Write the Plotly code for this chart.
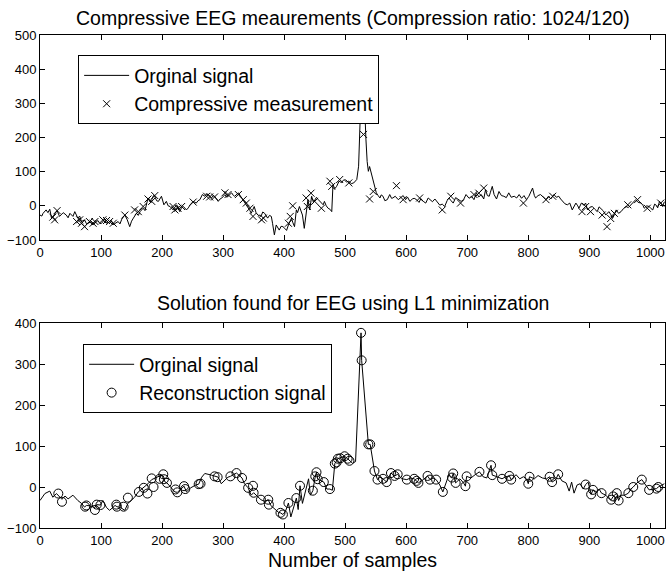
import plotly.graph_objects as go

# ---------------- data ----------------
# Top panel: original EEG signal (sample index, amplitude)
orig_x = [0, 3, 5, 10, 13, 16, 19, 24, 28, 32, 35, 38, 43, 46, 49, 54, 57, 62, 65, 68, 73, 76, 79, 84, 87,
          90, 95, 98, 101, 106, 109, 112, 117, 120, 123, 128, 131, 134, 139, 143, 147, 150, 153, 158, 161, 164,
          169, 172, 175, 177, 180, 183, 186, 188, 191, 194, 199, 203, 207, 210, 213, 218, 221, 224, 229, 232,
          235, 240, 243, 246, 251, 256, 259, 262, 266, 270, 273, 276, 281, 284, 286, 292, 295, 298, 303, 306,
          308, 314, 317, 319, 325, 328, 330, 336, 341, 344, 346, 351, 354, 357, 362, 365, 368, 373, 376, 379,
          381, 384, 387, 389, 392, 395, 398, 401, 404, 407, 410, 412, 414, 417, 420, 422, 425, 430, 433, 435,
          439, 442, 445, 448, 450, 453, 456, 461, 464, 466, 469, 472, 475, 478, 480, 483, 486, 490, 494, 498,
          502, 506, 510, 514, 517, 519, 522, 525, 527, 530, 532, 534, 536, 538, 540, 543, 546, 548, 551, 554,
          557, 559, 562, 565, 569, 573, 576, 578, 582, 587, 591, 595, 599, 602, 606, 610, 613, 617, 621, 624,
          628, 632, 636, 639, 643, 647, 650, 655, 659, 663, 667, 670, 673, 677, 681, 686, 690, 694, 698, 703,
          707, 711, 715, 719, 723, 727, 730, 733, 736, 738, 741, 744, 748, 752, 756, 760, 764, 768, 772, 777,
          781, 785, 789, 793, 797, 801, 804, 807, 810, 812, 816, 820, 825, 829, 833, 837, 840, 842, 846, 850,
          853, 856, 860, 864, 868, 872, 875, 878, 881, 883, 887, 891, 894, 897, 901, 905, 909, 913, 916, 919,
          923, 927, 930, 932, 935, 938, 941, 944, 948, 952, 956, 960, 964, 968, 972, 976, 980, 985, 988, 990,
          994, 998, 1001, 1004, 1007, 1009, 1012, 1015, 1018, 1020, 1023]
orig_y = [-27, -30, -22, -12, -20, -10, -37, -22, -14, -31, -24, -20, -27, -35, -22, -31, -17, -36, -30, -46,
          -41, -52, -51, -46, -55, -51, -43, -52, -51, -39, -50, -49, -43, -55, -51, -46, -53, -39, -27, -41,
          -61, -45, -36, -22, -28, -17, -7, -14, 8, 23, 12, 18, 30, 28, 15, 13, 28, 3, 13, 0, -2, -12, -4, 3,
          -17, -5, -2, -12, -6, 3, 13, 8, 15, 18, 33, 28, 35, 33, 23, 30, 28, 13, 20, 23, 33, 25, 28, 38, 30,
          28, 38, 30, 23, 8, -7, -14, -22, -2, -20, -27, -31, -18, -22, -36, -28, -31, -51, -85, -56, -62,
          -71, -60, -61, -66, -72, -56, -44, -36, -48, -61, -12, -20, -2, -27, -66, -31, 18, -12, 28, 10, 18,
          25, 18, 8, 3, 13, 0, -7, -10, -17, 62, 50, 57, 72, 68, 77, 70, 72, 65, 67, 73, 77, 116, 250, 385,
          380, 262, 195, 130, 101, 115, 92, 77, 60, 38, 30, 23, 32, 28, 15, 18, 33, 22, 23, 28, 18, 23, 30,
          18, 26, 13, 20, 22, 18, 10, 21, 13, 8, 23, 18, 12, 20, 13, 2, 5, -2, 15, 23, 16, 8, 24, 18, 13, 18,
          33, 22, 28, 18, 38, 26, 33, 20, 47, 30, 28, 40, 57, 33, 20, 42, 30, 28, 24, 38, 25, 28, 23, 33, 22,
          30, 18, 28, 38, 52, 30, 23, 30, 33, 25, 18, 28, 20, 28, 33, 25, 28, 20, 13, 6, 3, 8, -12, 0, 8, 0,
          -7, 8, 2, 8, -12, -4, -2, -10, -17, -3, -7, -15, -27, -20, -17, -25, -37, -26, -12, -22, -17, -8,
          -2, -5, 3, 12, 18, 10, 8, 1, -7, 0, -2, -8, -12, 5, 3, -6, 13, 6, -2, 12]

# Top panel: compressive measurements
meas_x = [21, 24, 28, 60, 65, 68, 73, 81, 87, 90, 103, 109, 114, 120, 139, 155, 161, 169, 177, 183, 188,
          218, 221, 226, 232, 251, 273, 278, 286, 303, 308, 325, 333, 338, 344, 349, 363, 366, 407, 410,
          414, 436, 438, 444, 450, 461, 475, 478, 491, 506, 530, 540, 546, 584, 595, 622, 659, 673, 689,
          711, 719, 727, 792, 829, 840, 888, 894, 902, 921, 929, 935, 941, 963, 979, 995, 1017]
meas_y = [-33, -41, -14, -46, -41, -51, -61, -46, -51, -46, -41, -43, -46, -51, -27, -12, -17, -2, 20, 13,
          30, -2, -12, -7, -2, 11, 28, 26, 26, 38, 33, 33, 18, 8, -7, -31, -41, -36, -51, -31, 0, 23, -2,
          37, 13, -7, 72, 57, 77, 67, 209, 20, 42, 59, 18, 23, -12, 28, 8, 33, 37, 52, 8, 18, 28, -17, -2,
          -17, -27, -61, -37, -22, 3, 18, -7, 8]

# Bottom panel: signal line
line_x = [0, 8, 16, 21, 27, 30, 36, 41, 46, 54, 62, 68, 73, 76, 82, 90, 93, 99, 103, 109, 114, 123, 126,
          132, 139, 144, 150, 155, 161, 170, 177, 183, 191, 199, 203, 205, 208, 215, 221, 225, 232, 236, 240,
          247, 254, 260, 265, 270, 281, 286, 292, 297, 303, 308, 312, 319, 322, 331, 335, 341, 346, 350, 356,
          362, 368, 374, 378, 385, 391, 394, 398, 402, 407, 411, 416, 420, 423, 426, 430, 435, 440, 443, 447,
          451, 453, 455, 460, 465, 470, 475, 479, 483, 488, 494, 499, 504, 507, 512, 517, 526, 527, 538, 541,
          548, 553, 557, 562, 568, 575, 581, 586, 593, 601, 607, 613, 617, 620, 628, 635, 639, 644, 649, 655,
          660, 666, 670, 675, 677, 681, 688, 694, 697, 699, 706, 713, 720, 726, 732, 739, 741, 747, 752, 757,
          763, 769, 772, 780, 786, 792, 797, 800, 802, 810, 816, 823, 830, 835, 839, 845, 849, 855, 862, 867,
          871, 875, 880, 885, 890, 894, 898, 903, 906, 912, 916, 920, 927, 932, 936, 939, 945, 948, 952, 958,
          964, 968, 972, 978, 986, 992, 998, 1005, 1010, 1013, 1020, 1023]
line_y = [-33, -16, -10, -25, -16, -20, -30, -22, -29, -20, -33, -40, -49, -45, -46, -50, -43, -44, -33, -50,
          -57, -45, -48, -50, -57, -40, -33, -25, -12, -2, 8, 18, 24, 29, 19, 12, 10, -2, -12, -13, -4, 2,
          -12, -2, 4, 7, 24, 33, 29, 26, 24, 8, 18, 24, 26, 33, 34, 22, 8, -2, -20, -14, -22, -31, -35, -31,
          -45, -55, -62, -63, -67, -60, -39, -73, -50, -27, -55, 3, -40, -10, 20, -20, -9, 26, 36, 19, 15,
          12, -5, -5, -8, 57, 69, 72, 75, 69, 64, 58, 62, 376, 309, 104, 104, 39, 18, 24, 20, 12, 34, 27, 31,
          20, 18, 22, 20, 15, 10, 18, 27, 18, 22, 18, 5, -12, 12, 30, 23, 33, 10, 20, 10, 2, 26, 22, 30, 37,
          25, 22, 53, 29, 26, 22, 20, 25, 27, 18, 30, 20, 25, 20, 8, 25, 20, 28, 22, 20, 25, 12, 18, 31, 15,
          10, -10, 12, -15, 5, 8, -5, 6, 12, -18, -7, -12, -5, -15, -20, -28, -31, -23, -15, -33, -20, -20,
          -15, -5, 0, 10, 18, 5, -7, -5, -4, 0, 5, 8]

# Bottom panel: reconstruction signal (circles)
rec_x = [30, 36, 74, 76, 90, 93, 99, 125, 126, 137, 144, 162, 170, 176, 183, 186, 196, 202, 203, 208, 222,
         225, 236, 238, 260, 263, 286, 291, 312, 322, 331, 341, 349, 350, 362, 374, 375, 394, 398, 407, 420,
         426, 447, 451, 453, 455, 465, 475, 483, 486, 488, 492, 499, 504, 507, 526, 527, 538, 541, 548, 553,
         562, 568, 575, 581, 586, 601, 613, 617, 620, 635, 639, 649, 660, 675, 677, 681, 697, 699, 720, 739,
         741, 757, 769, 772, 800, 802, 835, 839, 849, 894, 903, 906, 920, 936, 939, 945, 948, 964, 972, 986,
         998, 1010, 1013]
rec_y = [-16, -36, -48, -45, -56, -43, -44, -43, -48, -48, -26, -12, -2, -16, 21, 0, 20, 31, 19, 10, -6, -13,
         2, -5, 7, 8, 26, 24, 26, 34, 22, -2, 3, -14, -31, -31, -43, -63, -67, -39, -27, 3, -9, 26, 36, 19,
         12, -5, 57, 60, 69, 70, 75, 69, 64, 376, 309, 104, 104, 39, 18, 20, 12, 34, 27, 31, 18, 20, 15, 10,
         27, 18, 18, -12, 23, 33, 10, 2, 26, 37, 53, 29, 20, 27, 18, 8, 25, 25, 12, 31, 6, -18, -7, -15, -31,
         -23, -15, -33, -15, 0, 18, -7, -4, 0]

x_ticks = [0, 100, 200, 300, 400, 500, 600, 700, 800, 900, 1000]
top_y_ticks = [-100, 0, 100, 200, 300, 400, 500]
bot_y_ticks = [-100, 0, 100, 200, 300, 400]

# ---------------- figure ----------------
FONT = "Liberation Sans, Arial, Helvetica, sans-serif"
fig = go.Figure()

fig.add_trace(go.Scatter(x=orig_x, y=orig_y, mode="lines", name="Orginal signal",
                         line=dict(color="black", width=1), legend="legend",
                         xaxis="x", yaxis="y"))
fig.add_trace(go.Scatter(x=meas_x, y=meas_y, mode="markers", name="Compressive measurement",
                         marker=dict(symbol="x-thin-open", size=7, color="black",
                                     line=dict(color="black", width=1)),
                         legend="legend", xaxis="x", yaxis="y"))
fig.add_trace(go.Scatter(x=line_x, y=line_y, mode="lines", name="Orginal signal",
                         line=dict(color="black", width=1), legend="legend2",
                         xaxis="x2", yaxis="y2"))
fig.add_trace(go.Scatter(x=rec_x, y=rec_y, mode="markers", name="Reconstruction signal",
                         marker=dict(symbol="circle-open", size=9, color="black",
                                     line=dict(color="black", width=1)),
                         legend="legend2", xaxis="x2", yaxis="y2"))

axis_common = dict(showline=True, linecolor="black", linewidth=1, mirror="ticks",
                   ticks="inside", ticklen=5, tickcolor="black", tickwidth=1,
                   showgrid=False, zeroline=False,
                   tickfont=dict(family=FONT, size=13, color="black"))

fig.update_layout(
    width=667, height=571,
    margin=dict(l=40, r=2, t=35, b=43),
    paper_bgcolor="white", plot_bgcolor="white",
    font=dict(family=FONT, color="black"),
    xaxis=dict(domain=[0, 1], anchor="y", range=[0, 1024], tickvals=x_ticks, **axis_common),
    yaxis=dict(domain=[0.5842, 1], anchor="x", range=[-100, 500], tickvals=top_y_ticks, **axis_common),
    xaxis2=dict(domain=[0, 1], anchor="y2", range=[0, 1024], tickvals=x_ticks, **axis_common),
    yaxis2=dict(domain=[0, 0.4158], anchor="x2", range=[-100, 400], tickvals=bot_y_ticks, **axis_common),
    legend=dict(x=0.061, y=0.959, xanchor="left", yanchor="top", bgcolor="white",
                bordercolor="black", borderwidth=1, itemwidth=45,
                font=dict(family=FONT, size=19.5, color="black"), tracegroupgap=0),
    legend2=dict(x=0.069, y=0.373, xanchor="left", yanchor="top", bgcolor="white",
                 bordercolor="black", borderwidth=1, itemwidth=45,
                 font=dict(family=FONT, size=19.5, color="black"), tracegroupgap=0),
    showlegend=True,
    annotations=[
        dict(text="Compressive EEG meaurements (Compression ratio: 1024/120)", xref="paper", yref="paper",
             x=0.5, y=1.0345, xanchor="center", yanchor="middle", showarrow=False,
             font=dict(family=FONT, size=19.5, color="black")),
        dict(text="Solution found for EEG using L1 minimization", xref="paper", yref="paper",
             x=0.5, y=0.4564, xanchor="center", yanchor="middle", showarrow=False,
             font=dict(family=FONT, size=19.5, color="black")),
        dict(text="Number of samples", xref="paper", yref="paper",
             x=0.5, y=-0.065, xanchor="center", yanchor="middle", showarrow=False,
             font=dict(family=FONT, size=19.5, color="black")),
    ],
)

fig.write_html("out.html",
               config={"displayModeBar": False},
               post_script="document.body.style.margin='0px';document.body.style.overflow='hidden';")
